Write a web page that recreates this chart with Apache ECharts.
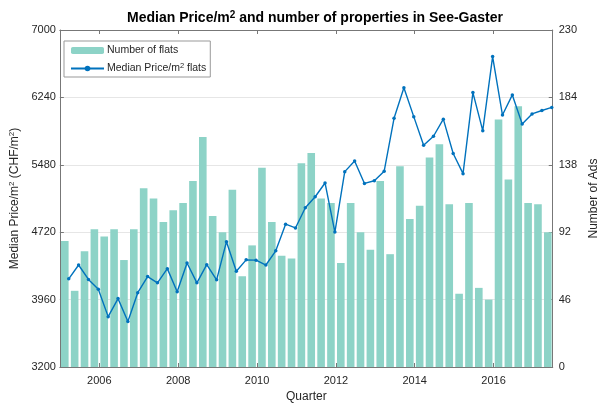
<!DOCTYPE html>
<html>
<head>
<meta charset="utf-8">
<script src="https://cdn.jsdelivr.net/npm/echarts@6/dist/echarts.min.js"></script>
<style>
  html, body { margin: 0; padding: 0; background: #fff; }
  #chart { width: 608px; height: 408px; }
</style>
</head>
<body>
<div id="chart"></div>
<script>
const quarters = [
  '2005 Q1', '2005 Q2', '2005 Q3', '2005 Q4', '2006 Q1', '2006 Q2', '2006 Q3', '2006 Q4',
  '2007 Q1', '2007 Q2', '2007 Q3', '2007 Q4', '2008 Q1', '2008 Q2', '2008 Q3', '2008 Q4',
  '2009 Q1', '2009 Q2', '2009 Q3', '2009 Q4', '2010 Q1', '2010 Q2', '2010 Q3', '2010 Q4',
  '2011 Q1', '2011 Q2', '2011 Q3', '2011 Q4', '2012 Q1', '2012 Q2', '2012 Q3', '2012 Q4',
  '2013 Q1', '2013 Q2', '2013 Q3', '2013 Q4', '2014 Q1', '2014 Q2', '2014 Q3', '2014 Q4',
  '2015 Q1', '2015 Q2', '2015 Q3', '2015 Q4', '2016 Q1', '2016 Q2', '2016 Q3', '2016 Q4',
  '2017 Q1', '2017 Q2'
]

// number of flats (right axis)
const flats = [
  86, 52, 79, 94, 89, 94, 73, 94, 122, 115,
  99, 107, 112, 127, 157, 103, 92, 121, 62, 83,
  136, 99, 76, 74, 139, 146, 115, 112, 71, 112,
  92, 80, 127, 77, 137, 101, 110, 143, 152, 111,
  50, 112, 54, 46, 169, 128, 178, 112, 111, 92
]

// median price per m2 (left axis)
const price = [
  4194, 4350, 4187, 4076, 3768, 3971, 3712, 4038, 4220, 4149,
  4309, 4049, 4372, 4149, 4354, 4183, 4613, 4279, 4408, 4405,
  4350, 4510, 4810, 4768, 4995, 5120, 5275, 4722, 5403, 5522,
  5270, 5300, 5408, 6004, 6348, 6023, 5700, 5802, 5995, 5607,
  5380, 6294, 5865, 6700, 6041, 6268, 5939, 6054, 6092, 6127
]

const yearTicks = [2006, 2008, 2010, 2012, 2014, 2016]
const priceTicks = [3200, 3960, 4720, 5480, 6240, 7000]

// quarter label -> position on the year axis (middle of the quarter)
const quarterPos = (label) => {
  const [y, q] = label.split(' Q')
  return Number(y) + (Number(q) - 0.5) / 4
}
const lineShift = 0.1

const font = 'Liberation Sans, Arial, Helvetica, sans-serif'
const axisCol = '#777'
const textCol = '#262626'
const plain = (v) => String(v)

const chart = echarts.init(document.getElementById('chart'))

const option = {
  animation: false,
  textStyle: { fontFamily: font },
  title: {
    text: 'Median Price/m{sup|2} and number of properties in See-Gaster',
    left: 310,
    textAlign: 'center',
    top: 5,
    textStyle: {
      fontFamily: font,
      fontSize: 14,
      fontWeight: 'bold',
      color: '#000',
      rich: {
        sup: { fontSize: 10, fontWeight: 'bold', verticalAlign: 'top', padding: [0, 0, 6, 0], color: '#000' }
      }
    }
  },
  legend: {
    left: 64,
    top: 41,
    orient: 'vertical',
    itemWidth: 33,
    itemHeight: 7,
    itemGap: 6,
    padding: [4, 4, 3, 6],
    borderColor: '#999',
    borderWidth: 1,
    backgroundColor: '#fff',
    textStyle: {
      fontFamily: font,
      fontSize: 10.5,
      color: textCol,
      padding: [0, 0, 0, -2],
      rich: {
        sup: { fontSize: 7.5, verticalAlign: 'top', padding: [0, 0, 5, 0], color: textCol }
      }
    },
    formatter: (name) => name === 'price' ? 'Median Price/m{sup|2} flats' : 'Number of flats',
    data: ['flats', 'price']
  },
  grid: {
    left: 54,
    right: 42,
    top: 30,
    bottom: 36,
    containLabel: false
  },
  xAxis: [
    {
      type: 'value',
      min: 2005,
      max: 2017.5,
      name: 'Quarter',
      nameLocation: 'middle',
      nameGap: 24,
      nameTextStyle: { fontFamily: font, fontSize: 12, color: textCol },
      axisLine: { show: true, lineStyle: { color: axisCol, width: 1 } },
      axisTick: { show: true, inside: true, length: 4, customValues: yearTicks, lineStyle: { color: axisCol } },
      axisLabel: { show: true, customValues: yearTicks, formatter: plain, fontSize: 11, color: textCol, margin: 8, fontFamily: font },
      splitLine: { show: false }
    },
    {
      type: 'value',
      position: 'top',
      min: 2005,
      max: 2017.5,
      axisLine: { show: true, onZero: false, lineStyle: { color: axisCol, width: 1 } },
      axisTick: { show: true, inside: true, length: 4, customValues: yearTicks, lineStyle: { color: axisCol } },
      axisLabel: { show: false },
      splitLine: { show: false }
    }
  ],
  yAxis: [
    {
      type: 'value',
      min: 3200,
      max: 7000,
      name: 'Median Price/m{sup|2} (CHF/m{sup|2})',
      nameLocation: 'middle',
      nameGap: 38,
      nameRotate: 90,
      nameTextStyle: {
        fontFamily: font,
        fontSize: 12,
        color: textCol,
        rich: {
          sup: { fontSize: 8, verticalAlign: 'top', padding: [0, 0, 5, 0], color: textCol }
        }
      },
      axisLine: { show: true, lineStyle: { color: axisCol, width: 1 } },
      axisTick: { show: true, inside: true, length: 4, customValues: priceTicks, lineStyle: { color: axisCol } },
      axisLabel: { customValues: priceTicks, formatter: plain, fontSize: 11, color: textCol, margin: 4, fontFamily: font },
      splitLine: { show: false }
    },
    {
      type: 'value',
      min: 0,
      max: 230,
      interval: 46,
      position: 'right',
      name: 'Number of Ads',
      nameLocation: 'middle',
      nameGap: 31,
      nameRotate: 90,
      nameTextStyle: { fontFamily: font, fontSize: 12, color: textCol },
      axisLine: { show: true, lineStyle: { color: axisCol, width: 1 } },
      axisTick: { show: true, inside: true, length: 4, lineStyle: { color: axisCol } },
      axisLabel: { formatter: plain, fontSize: 11, color: textCol, margin: 6, fontFamily: font },
      splitLine: { show: true, lineStyle: { color: '#e6e6e6', width: 1 } }
    }
  ],
  series: [
    {
      name: 'flats',
      type: 'bar',
      xAxisIndex: 0,
      yAxisIndex: 1,
      data: quarters.map((q, i) => [quarterPos(q), flats[i]]),
      barWidth: 7.6,
      itemStyle: { color: '#8dd3c7' },
      z: 2
    },
    {
      name: 'price',
      type: 'line',
      xAxisIndex: 0,
      yAxisIndex: 0,
      data: quarters.map((q, i) => [quarterPos(q) + lineShift, price[i]]),
      symbol: 'circle',
      symbolSize: 3.5,
      showSymbol: true,
      lineStyle: { color: '#0072bd', width: 1.4 },
      itemStyle: { color: '#0072bd' },
      z: 3
    }
  ]
}

chart.setOption(option)
</script>
</body>
</html>
